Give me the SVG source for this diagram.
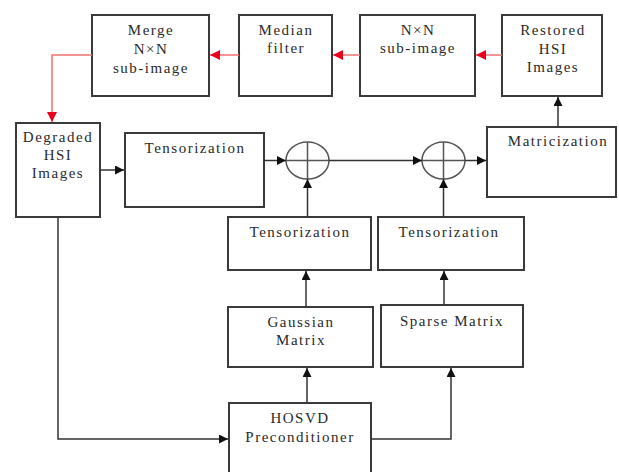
<svg xmlns="http://www.w3.org/2000/svg" width="619" height="472" viewBox="0 0 619 472">
<style>
.box{fill:#fff;stroke:#3a3a3a;stroke-width:2}
.sum{fill:none;stroke:#555;stroke-width:1.5}
.t{font-family:"Liberation Serif","Times New Roman",serif;font-size:15px;letter-spacing:1.5px;fill:#2a2a2a;text-anchor:middle}
.c{fill:none;stroke:#333;stroke-width:1.5}
.r{fill:none;stroke:#f07070;stroke-width:1.5}
</style>
<defs>
<marker id="ah" viewBox="0 0 10 10" refX="10" refY="5" markerWidth="10" markerHeight="9" markerUnits="userSpaceOnUse" orient="auto"><path d="M0,0L10,5L0,10z" fill="#111"/></marker>
<marker id="ahr" viewBox="0 0 10 10" refX="10" refY="5" markerWidth="11" markerHeight="10" markerUnits="userSpaceOnUse" orient="auto"><path d="M0,0L10,5L0,10z" fill="#e8001c"/></marker>
</defs>
<rect width="619" height="472" fill="#fff"/>
<g id="merge"><rect class="box" x="92" y="15" width="117" height="81"/><text class="t" x="151" y="35">Merge</text><text class="t" x="151" y="54">N×N</text><text class="t" x="151" y="73">sub-image</text></g>
<g id="median"><rect class="box" x="239" y="15" width="93" height="81"/><text class="t" x="286" y="35">Median</text><text class="t" x="286" y="53">filter</text></g>
<g id="nxn"><rect class="box" x="360" y="15" width="115" height="81"/><text class="t" x="418" y="35">N×N</text><text class="t" x="418" y="53">sub-image</text></g>
<g id="restored"><rect class="box" x="502" y="15" width="100" height="81"/><text class="t" x="553" y="35">Restored</text><text class="t" x="553" y="54">HSI</text><text class="t" x="553" y="72">Images</text></g>
<g id="degraded"><rect class="box" x="16" y="123" width="84" height="94"/><text class="t" x="58" y="142">Degraded</text><text class="t" x="58" y="160">HSI</text><text class="t" x="58" y="178">Images</text></g>
<g id="tens1"><rect class="box" x="125" y="133" width="139" height="74"/><text class="t" x="195" y="153">Tensorization</text></g>
<g id="sum1"><ellipse class="sum" cx="307.5" cy="160.5" rx="21.5" ry="18.5"/><path class="sum" d="M286,160.5H329M307.5,142V179"/></g>
<g id="sum2"><ellipse class="sum" cx="443.5" cy="160.5" rx="21.5" ry="18.5"/><path class="sum" d="M422,160.5H465M443.5,142V179"/></g>
<g id="matric"><rect class="box" x="487" y="127" width="129" height="70"/><text class="t" x="558" y="146">Matricization</text></g>
<g id="tens2"><rect class="box" x="228" y="217" width="143" height="53"/><text class="t" x="300" y="237">Tensorization</text></g>
<g id="tens3"><rect class="box" x="378" y="217" width="146" height="53"/><text class="t" x="449" y="237">Tensorization</text></g>
<g id="gauss"><rect class="box" x="228" y="307" width="145" height="60"/><text class="t" x="301" y="327">Gaussian</text><text class="t" x="301" y="345">Matrix</text></g>
<g id="sparse"><rect class="box" x="381" y="305" width="142" height="62"/><text class="t" x="452" y="326">Sparse Matrix</text></g>
<g id="hosvd"><rect class="box" x="229" y="403" width="142" height="80"/><text class="t" x="300" y="423">HOSVD</text><text class="t" x="300" y="442">Preconditioner</text></g>
<g id="connectors">
<path class="r" d="M502,55H476" marker-end="url(#ahr)"/>
<path class="r" d="M360,55H333" marker-end="url(#ahr)"/>
<path class="r" d="M239,55H210" marker-end="url(#ahr)"/>
<path class="r" d="M92,55H52V122" marker-end="url(#ahr)"/>
<path class="c" d="M100,170H124" marker-end="url(#ah)"/>
<path class="c" d="M264,160.5H286" marker-end="url(#ah)"/>
<path class="c" d="M329,160.5H422" marker-end="url(#ah)"/>
<path class="c" d="M465,160.5H486" marker-end="url(#ah)"/>
<path class="c" d="M558,127V97" marker-end="url(#ah)"/>
<path class="c" d="M307.5,217V179" marker-end="url(#ah)"/>
<path class="c" d="M443.5,217V179" marker-end="url(#ah)"/>
<path class="c" d="M306,307V271" marker-end="url(#ah)"/>
<path class="c" d="M444,305V271" marker-end="url(#ah)"/>
<path class="c" d="M307,403V368" marker-end="url(#ah)"/>
<path class="c" d="M58,217V439H228" marker-end="url(#ah)"/>
<path class="c" d="M371,439H451V368" marker-end="url(#ah)"/>
</g>
</svg>
